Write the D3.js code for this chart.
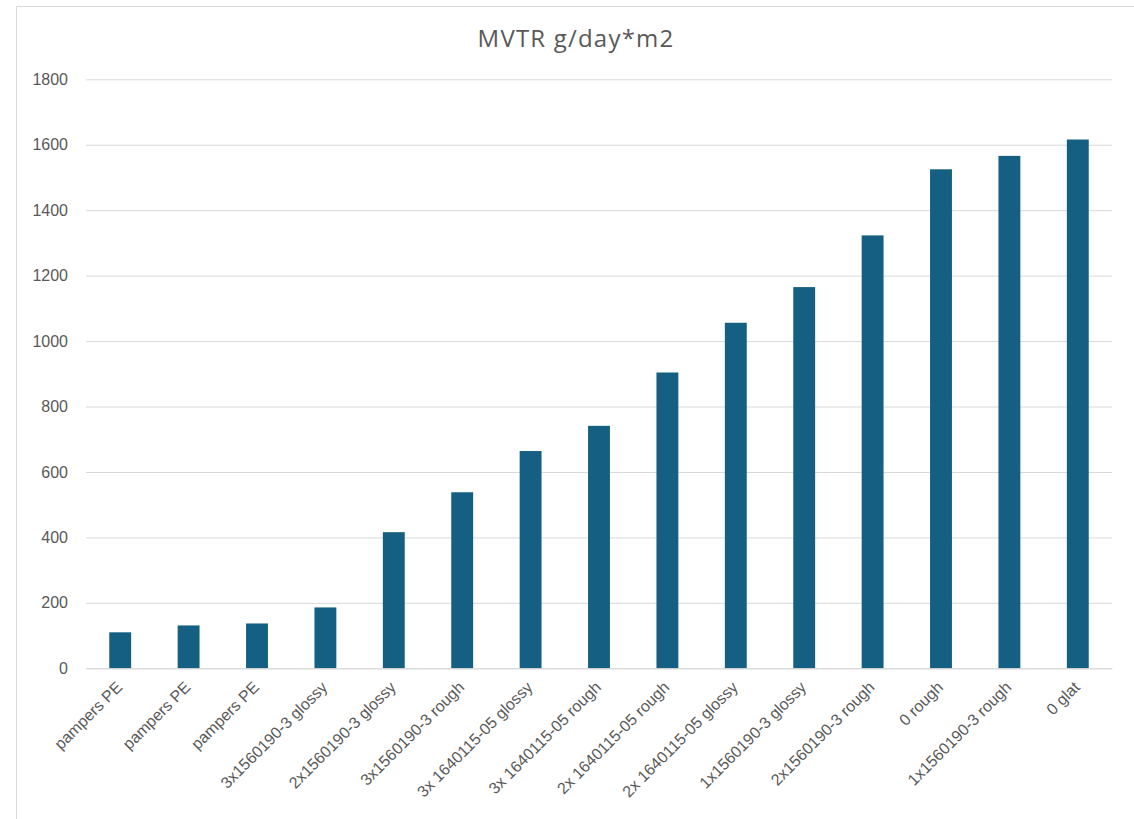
<!DOCTYPE html>
<html>
<head>
<meta charset="utf-8">
<script src="https://cdn.jsdelivr.net/npm/d3@7"></script>
<style>
  body { margin: 0; background: #fff; }
  svg { display: block; }
</style>
</head>
<body>
<svg width="1134" height="819"></svg>
<script>
// samples, in the order shown left to right
var categories = ["pampers PE", "pampers PE", "pampers PE", "3x1560190-3 glossy",
  "2x1560190-3 glossy", "3x1560190-3 rough", "3x 1640115-05 glossy", "3x 1640115-05 rough",
  "2x 1640115-05 rough", "2x 1640115-05 glossy", "1x1560190-3 glossy", "2x1560190-3 rough",
  "0 rough", "1x1560190-3 rough", "0 glat"];
var mvtr = [110, 131, 137, 186, 416, 538, 664, 741, 904, 1056, 1165, 1323, 1525, 1566, 1616];
var yTicks = [0, 200, 400, 600, 800, 1000, 1200, 1400, 1600, 1800];
var title = "MVTR g/day*m2";

var svg = d3.select("svg");
var plotLeft = 86, plotRight = 1112, plotTop = 79.3, plotBottom = 668.3;

// outer chart border (runs off the right and bottom of the picture)
svg.append("rect").attr("x", 16.5).attr("y", 6.5).attr("width", 1200).attr("height", 900)
  .attr("fill", "none").attr("stroke", "#d9d9d9").attr("stroke-width", 1);

var x = d3.scaleBand().domain(d3.range(categories.length)).range([plotLeft, plotRight])
  .paddingInner(0.68).paddingOuter(0.34);
var y = d3.scaleLinear().domain([0, 1800]).range([plotBottom, plotTop]);

// gridlines + y labels
var yAxis = svg.append("g").attr("transform", "translate(" + plotLeft + ",0)")
  .call(d3.axisLeft(y).tickValues(yTicks).tickFormat(d3.format("d"))
    .tickSize(-(plotRight - plotLeft)).tickPadding(18));
yAxis.select(".domain").remove();
yAxis.selectAll(".tick line").attr("stroke", "#d9d9d9");
yAxis.selectAll(".tick text").attr("fill", "#595959")
  .style("font-family", "'Liberation Sans', Arial, sans-serif").style("font-size", "16px");

// bars
svg.selectAll("rect.bar").data(mvtr).enter().append("rect")
  .attr("class", "bar")
  .attr("x", function(d, i){ return x(i); })
  .attr("y", function(d){ return y(d); })
  .attr("width", x.bandwidth())
  .attr("height", function(d){ return y(0) - y(d); })
  .attr("fill", "#156082");

// category axis
var xAxis = svg.append("g").attr("transform", "translate(0," + plotBottom + ")")
  .call(d3.axisBottom(x).tickSize(0).tickFormat(function(i){ return categories[i]; }));
xAxis.select(".domain").attr("stroke", "#d9d9d9");
xAxis.selectAll(".tick text")
  .attr("fill", "#595959")
  .style("font-family", "'Liberation Sans', Arial, sans-serif").style("font-size", "16px")
  .attr("text-anchor", "end")
  .attr("dy", null)
  .attr("y", 0)
  .attr("transform", "translate(3,20) rotate(-45)");

svg.append("text").attr("x", 576).attr("y", 47).attr("text-anchor", "middle")
  .attr("fill", "#595959")
  .style("font-family", "'Open Sans', sans-serif").style("font-size", "24px")
  .style("letter-spacing", "1.2px")
  .text(title);
</script>
</body>
</html>
